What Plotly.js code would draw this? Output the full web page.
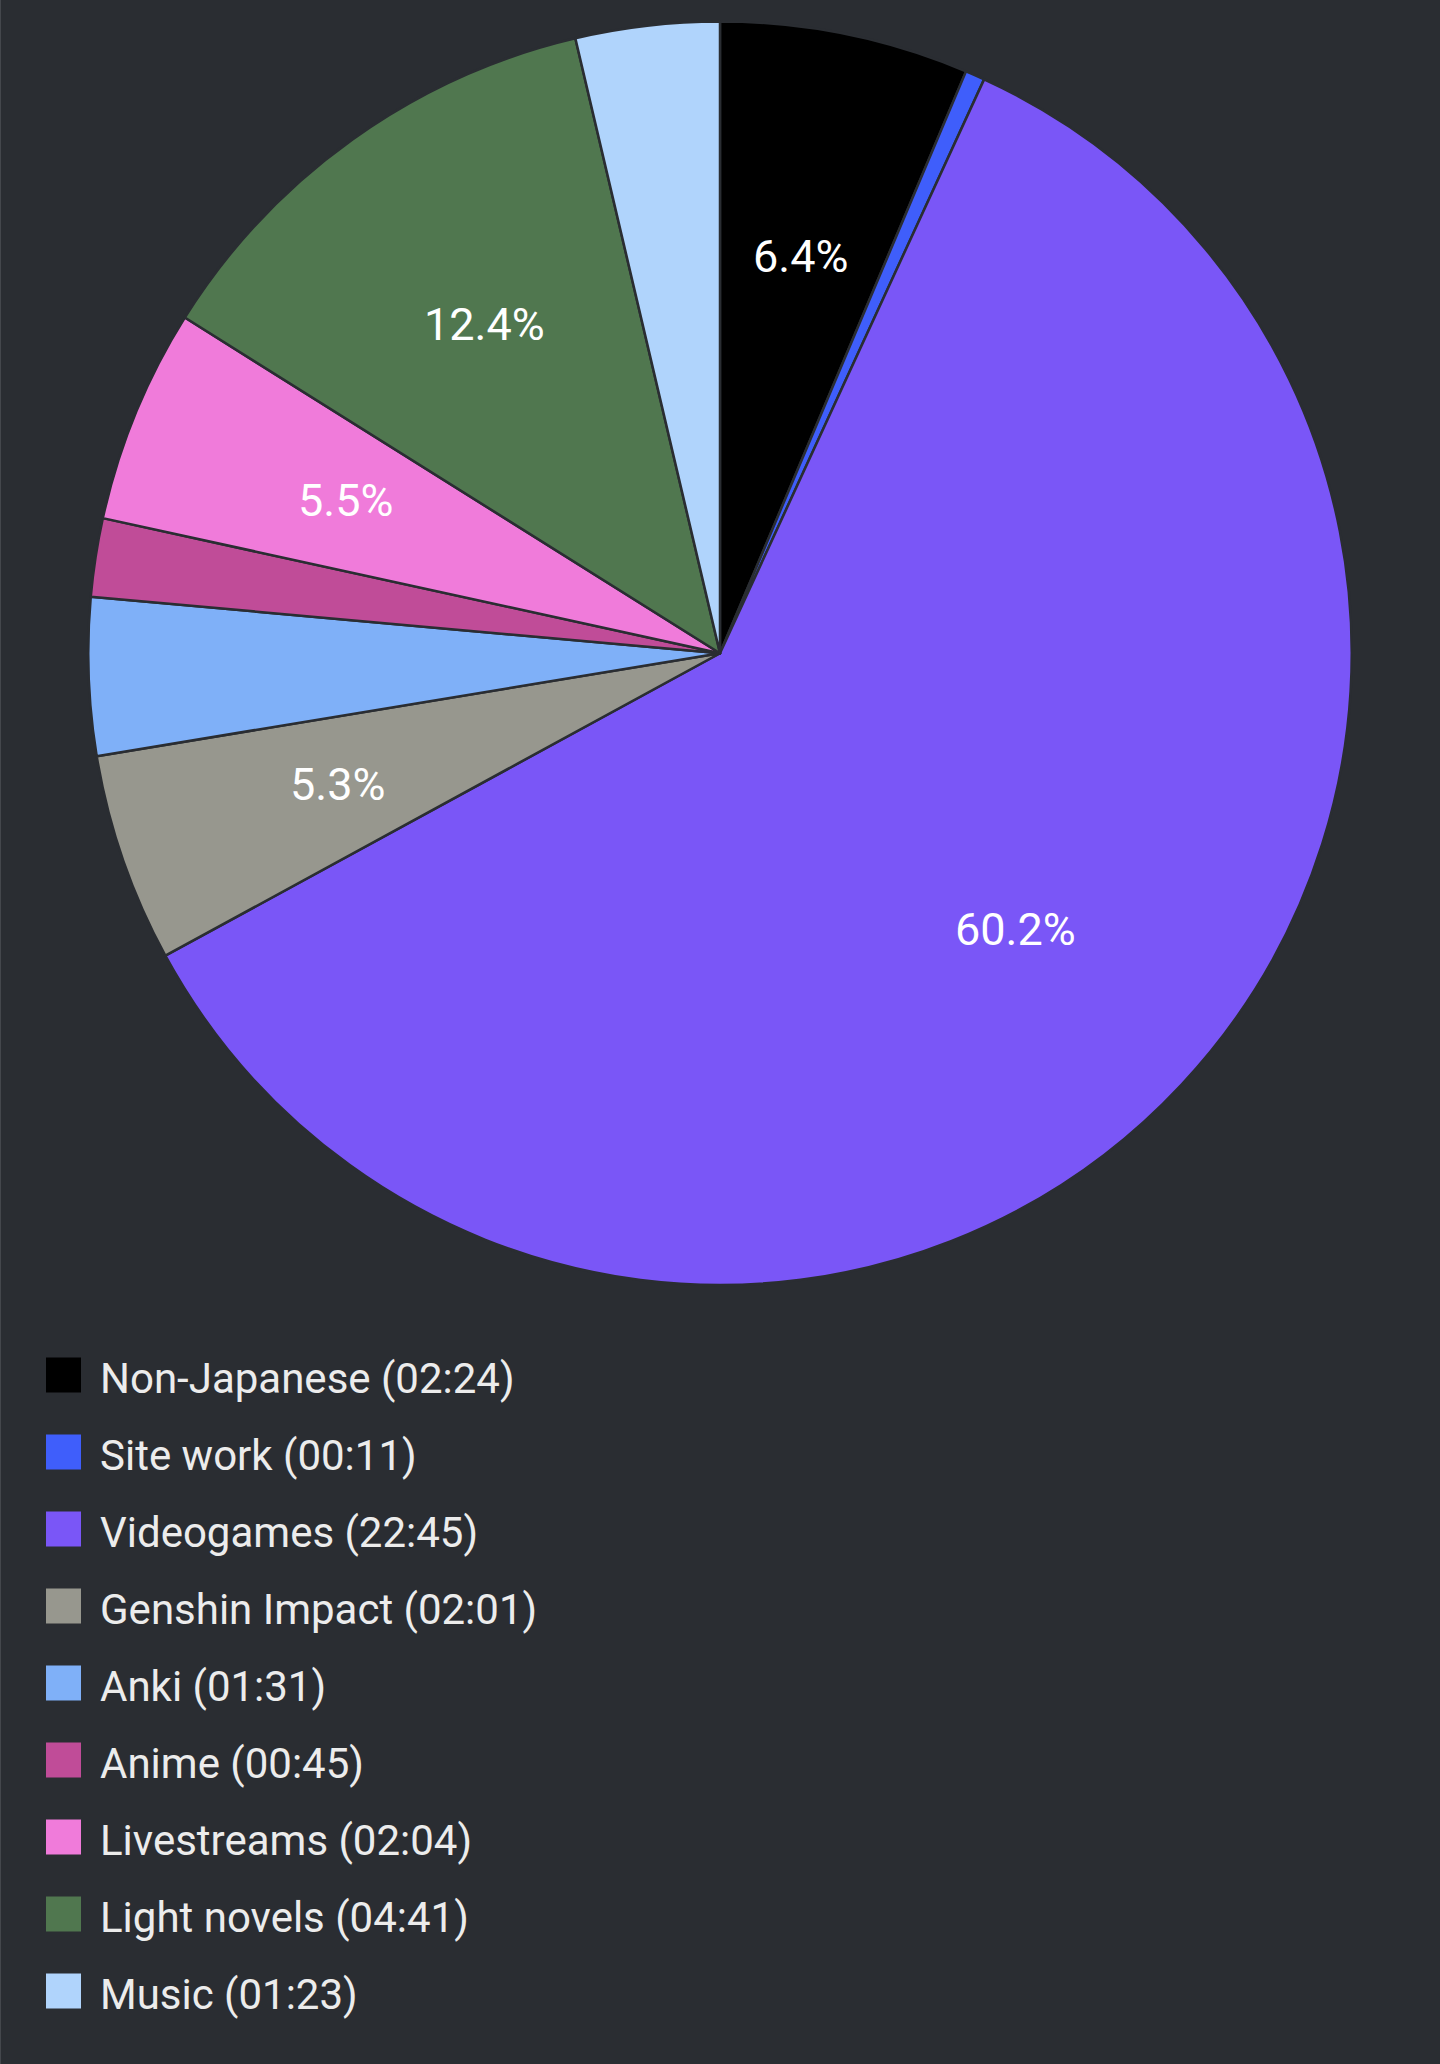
<!DOCTYPE html>
<html>
<head>
<meta charset="utf-8">
<script src="https://cdn.plot.ly/plotly-3.0.1.min.js"></script>
<style>
  html, body { margin: 0; padding: 0; background: #2a2d32; }
  #chart { width: 1440px; height: 2064px; }
</style>
</head>
<body>
<div id="chart"></div>
<script>
// ---- data (minutes; seconds estimated, legend shows hh:mm) ----
const labels = ["Non-Japanese", "Site work", "Videogames", "Genshin Impact", "Anki", "Anime", "Livestreams", "Light novels", "Music"];
const minutes = [144.4, 11.3, 1365.2, 121.1, 91.4, 45.5, 124.4, 281.4, 83.4];
const colors = ["#000000", "#3f5efb", "#7a56f7", "#97978e", "#7fb0f8", "#c04c98", "#f07bda", "#50774f", "#b0d4fc"];

// ---- layout constants ----
const W = 1440, H = 2064;
const BG = "#2a2d32";
const pieTopPx = 21.5, pieBottomPx = 1285;
const domainY = [1 - pieBottomPx / H, 1 - pieTopPx / H];
const R = (pieBottomPx - pieTopPx) / 2;
const CX = W / 2, CY = (pieTopPx + pieBottomPx) / 2;
const labelRadiusFrac = 0.64;
const minPctForLabel = 5;

const total = minutes.reduce((a, b) => a + b, 0);
const pad = n => String(n).padStart(2, "0");
const hhmm = m => { const t = Math.floor(m); return pad(Math.floor(t / 60)) + ":" + pad(t % 60); };
const legendText = labels.map((l, i) => `${l} (${hhmm(minutes[i])})`);

// ---- percentage labels at mid-angle of each slice ----
const annotations = [];
let cum = 0;
minutes.forEach((v, i) => {
  const frac = v / total;
  const mid = (cum + frac / 2) * 2 * Math.PI; // clockwise from 12 o'clock
  cum += frac;
  const pct = frac * 100;
  if (pct < minPctForLabel) return;
  const px = CX + labelRadiusFrac * R * Math.sin(mid);
  const py = CY - labelRadiusFrac * R * Math.cos(mid);
  annotations.push({
    xref: "paper", yref: "paper",
    x: px / W, y: 1 - py / H,
    xanchor: "center", yanchor: "middle",
    text: pct.toFixed(1) + "%",
    showarrow: false,
    font: { family: "Roboto, sans-serif", size: 45, color: "#ffffff" }
  });
});

// ---- custom legend ----
const legendTop = 1375, legendStep = 77, boxSize = 35, boxX = 46, textX = 98, textDy = 3;
const shapes = [{
  type: "line", xref: "paper", yref: "paper",
  x0: 0.5 / W, x1: 0.5 / W, y0: 0, y1: 1,
  line: { color: "#44474c", width: 1 }
}];
labels.forEach((l, i) => {
  const cy = legendTop + i * legendStep;
  shapes.push({
    type: "rect", xref: "paper", yref: "paper",
    x0: boxX / W, x1: (boxX + boxSize) / W,
    y0: 1 - (cy + boxSize / 2) / H, y1: 1 - (cy - boxSize / 2) / H,
    fillcolor: colors[i], line: { width: 0 }
  });
  annotations.push({
    xref: "paper", yref: "paper",
    x: textX / W, y: 1 - (cy + textDy) / H,
    xanchor: "left", yanchor: "middle",
    text: legendText[i],
    showarrow: false,
    font: { family: "Roboto, sans-serif", size: 42, color: "#ececec" }
  });
});

const trace = {
  type: "pie",
  labels: labels,
  values: minutes,
  sort: false,
  direction: "clockwise",
  rotation: 0,
  marker: { colors: colors, line: { color: BG, width: 2.5 } },
  textinfo: "none",
  hoverinfo: "label+percent",
  domain: { x: [0, 1], y: domainY },
  showlegend: false
};

const layout = {
  width: W, height: H,
  margin: { l: 0, r: 0, t: 0, b: 0 },
  paper_bgcolor: BG,
  plot_bgcolor: BG,
  showlegend: false,
  annotations: annotations,
  shapes: shapes,
  font: { family: "Roboto, sans-serif" }
};

Plotly.newPlot("chart", [trace], layout, { displayModeBar: false, staticPlot: true });
</script>
</body>
</html>
